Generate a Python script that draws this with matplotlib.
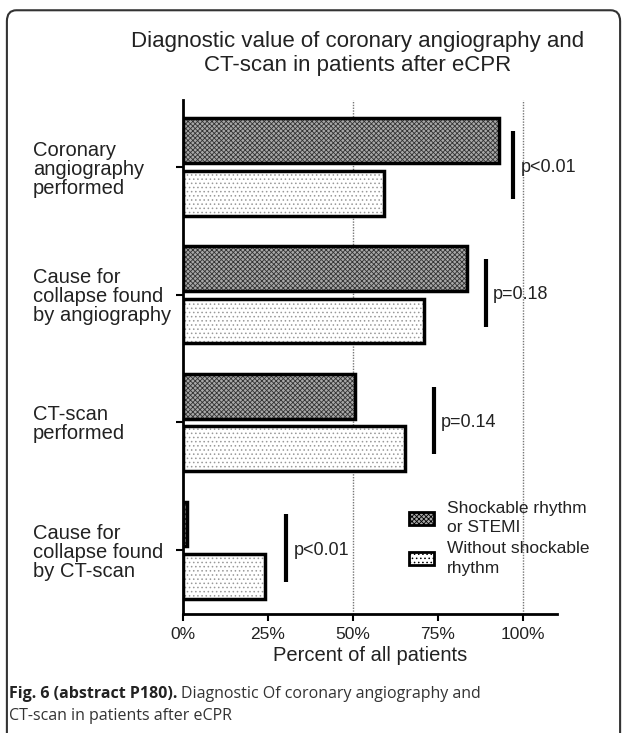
import numpy as np
import matplotlib
matplotlib.use('Agg')
import matplotlib.pyplot as plt
from matplotlib.patches import Patch, FancyBboxPatch

# -----------------------------
# DATA
# -----------------------------
categories = ['Coronary\nangiography\nperformed',
              'Cause for\ncollapse found\nby angiography',
              'CT-scan\nperformed',
              'Cause for\ncollapse found\nby CT-scan']
shockable = [93, 83.5, 50.7, 1.2]       # Shockable rhythm or STEMI
non_shockable = [59, 71, 65.2, 24]      # Without shockable rhythm
p_labels = ['p<0.01', 'p=0.18', 'p=0.14', 'p<0.01']
p_xpos = [97, 89, 73.7, 30.4]
xticks = [0, 25, 50, 75, 100]
xticklabels = ['0%', '25%', '50%', '75%', '100%']

# -----------------------------
# STYLE
# -----------------------------
plt.rcParams['font.family'] = ['Liberation Sans', 'DejaVu Sans']
plt.rcParams['hatch.linewidth'] = 0.6

fig = plt.figure(figsize=(6.27, 7.33), dpi=100)
ax = fig.add_axes([0.2919, 0.1623, 0.5965, 0.7013])

y = np.arange(len(categories))
h = 0.35
off = 0.205
dark_face = '#a8a8a8'
dark_hatch = 'xxxxxxx'

# dark checkered bars
ax.barh(y - off, shockable, height=h, color=dark_face, edgecolor='#333333',
        hatch=dark_hatch, linewidth=0, zorder=2)
ax.barh(y - off, shockable, height=h, fill=False, edgecolor='black',
        linewidth=2.5, zorder=3)
# light dotted bars
ax.barh(y + off, non_shockable, height=h, color='white', edgecolor='#999999',
        hatch='....', linewidth=0, zorder=2)
ax.barh(y + off, non_shockable, height=h, fill=False, edgecolor='black',
        linewidth=2.5, zorder=3)

# p-value markers
for i, (lab, xp) in enumerate(zip(p_labels, p_xpos)):
    ax.plot([xp, xp], [i - 0.28, i + 0.25], color='black', lw=3,
            solid_capstyle='butt', zorder=3)
    ax.text(xp + 2.2, i, lab, fontsize=13, va='center', ha='left', color='#222222')

# reference lines
for xv in [50, 100]:
    ax.axvline(xv, color='#777777', ls=(0, (1, 1)), lw=1, zorder=1)

ax.set_xlim(0, 110)
ax.set_ylim(3.5, -0.525)
ax.set_xticks(xticks)
ax.set_xticklabels(xticklabels, fontsize=12.5, color='#222222')
ax.set_yticks(y)
ax.set_yticklabels(categories, fontsize=14.5, color='#222222', linespacing=1.0)
for lab in ax.get_yticklabels():
    lab.set_horizontalalignment('left')
ax.tick_params(axis='y', length=5, width=1.5, pad=103)
ax.tick_params(axis='x', length=5, width=1.5, pad=4)
ax.set_xlabel('Percent of all patients', fontsize=14.5, labelpad=3, color='#222222')

for s in ['top', 'right']:
    ax.spines[s].set_visible(False)
for s in ['left', 'bottom']:
    ax.spines[s].set_linewidth(2)

handles = [Patch(facecolor=dark_face, edgecolor='black', hatch=dark_hatch, lw=2),
           Patch(facecolor='white', edgecolor='black', hatch='....', lw=2)]
leg = ax.legend(handles, ['Shockable rhythm\nor STEMI', 'Without shockable\nrhythm'],
                loc='upper left', bbox_to_anchor=(0.563, 0.25), frameon=False,
                fontsize=12.5, handlelength=1.45, handleheight=0.75,
                handletextpad=0.7, labelspacing=0.35)
for t in leg.get_texts():
    t.set_linespacing(1.35)
    t.set_color('#222222')

# title
fig.text(0.571, 0.927, 'Diagnostic value of coronary angiography and\nCT-scan in patients after eCPR',
         ha='center', va='center', fontsize=16, linespacing=1.2, color='#222222')

# caption
cap_font = ['Open Sans', 'DejaVu Sans']
cap_size = 11.5
t1 = fig.text(0.014, 1 - 694 / 733, 'Fig. 6 (abstract P180).', fontsize=cap_size,
              fontweight='bold', family=cap_font, va='center', ha='left', color='#222222')
fig.canvas.draw()
bb = t1.get_window_extent()
x_end = bb.x1 / fig.bbox.width
fig.text(x_end + 0.006, 1 - 694 / 733, 'Diagnostic Of coronary angiography and',
         fontsize=cap_size, family=cap_font, va='center', ha='left', color='#333333')
fig.text(0.014, 1 - 716 / 733, 'CT-scan in patients after eCPR',
         fontsize=cap_size, family=cap_font, va='center', ha='left', color='#333333')

# rounded frame around the figure
frame = FancyBboxPatch((0.011, -0.05), 0.978, 1.036,
                       boxstyle='round,pad=0,rounding_size=0.015',
                       transform=fig.transFigure, fill=False,
                       edgecolor='#333333', lw=1.5)
fig.patches.append(frame)

fig.savefig('out.png', dpi=100)
